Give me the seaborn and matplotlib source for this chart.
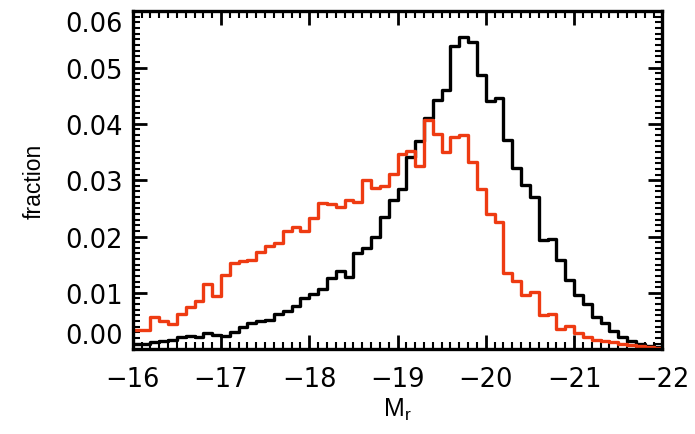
import numpy as np
import pandas as pd
import matplotlib
matplotlib.use("Agg")
import matplotlib.pyplot as plt
from matplotlib.ticker import MultipleLocator
import seaborn as sns

# Absolute magnitude bins, 0.1 mag wide from -16 to -22
bin_edges = np.round(np.arange(-16.0, -22.05, -0.1), 2)
bin_centers = (bin_edges[:-1] + bin_edges[1:]) / 2

# Fraction of galaxies per bin: full sample (black)
frac_all = [
    0.0009, 0.0010, 0.0012, 0.0014, 0.0016, 0.0021, 0.0024, 0.0021, 0.0029, 0.0026,
    0.0024, 0.0030, 0.0040, 0.0046, 0.0050, 0.0052, 0.0063, 0.0068, 0.0076, 0.0091,
    0.0098, 0.0107, 0.0126, 0.0138, 0.0129, 0.0170, 0.0179, 0.0200, 0.0235, 0.0265,
    0.0285, 0.0342, 0.0370, 0.0410, 0.0442, 0.0460, 0.0539, 0.0554, 0.0545, 0.0487,
    0.0441, 0.0445, 0.0372, 0.0322, 0.0291, 0.0271, 0.0194, 0.0196, 0.0159, 0.0123,
    0.0097, 0.0080, 0.0057, 0.0047, 0.0032, 0.0022, 0.0015, 0.0010, 0.0005, 0.0004,
]

# Fraction of galaxies per bin: subsample (red)
frac_sub = [
    0.0034, 0.0034, 0.0057, 0.0050, 0.0044, 0.0062, 0.0075, 0.0086, 0.0115, 0.0094,
    0.0132, 0.0153, 0.0157, 0.0159, 0.0172, 0.0183, 0.0188, 0.0209, 0.0217, 0.0210,
    0.0233, 0.0260, 0.0258, 0.0253, 0.0264, 0.0261, 0.0300, 0.0287, 0.0290, 0.0311,
    0.0347, 0.0351, 0.0325, 0.0406, 0.0382, 0.0350, 0.0376, 0.0380, 0.0332, 0.0285,
    0.0240, 0.0226, 0.0136, 0.0121, 0.0097, 0.0101, 0.0060, 0.0063, 0.0036, 0.0041,
    0.0028, 0.0022, 0.0017, 0.0014, 0.0013, 0.0010, 0.0007, 0.0005, 0.0003, 0.0002,
]

x_ticks = [-16, -17, -18, -19, -20, -21, -22]
y_ticks = [0.00, 0.01, 0.02, 0.03, 0.04, 0.05, 0.06]

sns.set_style("white")
plt.rcParams["font.family"] = ["DejaVu Sans"]
plt.rcParams["text.color"] = "black"
plt.rcParams["axes.labelcolor"] = "black"
plt.rcParams["xtick.color"] = "black"
plt.rcParams["ytick.color"] = "black"
plt.rcParams["mathtext.fontset"] = "custom"
plt.rcParams["mathtext.rm"] = "Liberation Sans"
plt.rcParams["mathtext.it"] = "Liberation Sans"

fig = plt.figure(figsize=(6.95, 4.35), dpi=100)
ax = fig.add_axes([0.191, 0.195, 0.762, 0.777])

df = pd.DataFrame({
    "Mr": np.concatenate([bin_centers, bin_centers]),
    "frac": np.concatenate([frac_all, frac_sub]),
    "sample": ["all"] * len(bin_centers) + ["sub"] * len(bin_centers),
})

colors = {"all": "black", "sub": "#EE3B12"}
for name in ["all", "sub"]:
    part = df[df["sample"] == name]
    sns.histplot(
        data=part, x="Mr", weights="frac", binwidth=0.1, binrange=(-22.0, -16.0),
        element="step", fill=False, color=colors[name], linewidth=2.4,
        ax=ax, legend=False,
    )

ax.set_xlim(-16, -22)
ax.set_ylim(0, 0.06)
ax.set_xticks(x_ticks)
ax.set_xticklabels([f"\u2212{abs(t)}" for t in x_ticks])
ax.set_yticks(y_ticks)
ax.set_yticklabels([f"{v:.2f}" for v in y_ticks])
ax.xaxis.set_minor_locator(MultipleLocator(0.1))
ax.yaxis.set_minor_locator(MultipleLocator(0.001))

# End labels on the y axis sit inside the frame
ylabels = ax.get_yticklabels()
ylabels[0].set_va("bottom")
ylabels[-1].set_va("top")

ax.tick_params(which="both", direction="in", top=True, right=True,
               bottom=True, left=True, color="black", labelcolor="black")
ax.tick_params(which="major", length=10, width=2.0, labelsize=18.5)
ax.tick_params(which="minor", length=5, width=1.5)
ax.tick_params(axis="x", which="major", pad=12)
ax.tick_params(axis="y", which="major", pad=7)

for sp in ax.spines.values():
    sp.set_linewidth(2.4)
    sp.set_color("black")

ax.set_xlabel(r"M$_\mathrm{r}$", fontsize=18, family="Liberation Sans",
              labelpad=3, color="black")
ax.set_ylabel("fraction", fontsize=16.5, family="Liberation Sans",
              labelpad=14, color="black")

fig.savefig("out.png", dpi=100)
